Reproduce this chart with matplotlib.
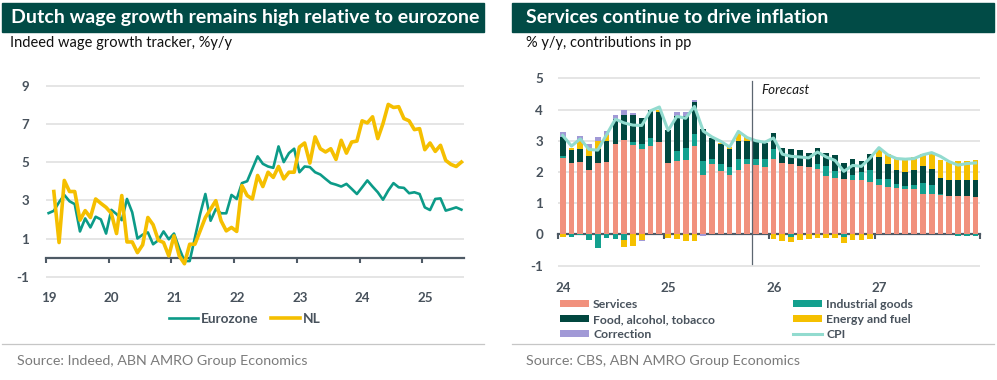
import numpy as np
import pandas as pd
import matplotlib
matplotlib.use('Agg')
import matplotlib.pyplot as plt
import matplotlib.transforms as mtransforms
from matplotlib.patches import Rectangle
from matplotlib.lines import Line2D

plt.rcParams['font.family'] = ['Lato', 'DejaVu Sans']
plt.rcParams['axes.unicode_minus'] = False

# ---- left chart: Indeed wage growth tracker, %y/y (monthly from Jan 2019)
wage_start = '2019-01'
eurozone = [2.33, 2.45, 2.9, 3.28, 2.95, 2.8, 1.37, 2.05, 1.58, 2.14, 2.0, 1.26,
            2.5, 2.28, 1.96, 3.07, 2.37, 1.0, 1.2, 1.32, 0.7, 0.91, 1.37, 0.96,
            1.26, 0.49, -0.18, -0.18, 1.05, 2.28, 3.33, 1.93, 2.54, 2.32, 2.32, 3.28,
            3.07, 3.9, 4.0, 4.65, 5.3, 4.91, 4.77, 4.7, 5.82, 5.0, 5.47, 5.7,
            4.47, 4.77, 4.74, 4.47, 4.35, 4.12, 3.9, 3.82, 3.72, 3.86, 3.6, 3.33,
            3.68, 4.04, 3.72, 3.42, 3.03, 3.51, 3.9, 3.68, 3.65, 3.37, 3.42, 3.33,
            2.63, 2.49, 3.07, 3.1, 2.46, 2.54, 2.63, 2.51]
nl = [np.nan, 3.46, 0.79, 4.04, 3.46, 3.46, 1.96, 2.46, 2.1, 3.07, 2.84, 2.63,
      2.32, 1.26, 3.25, 0.82, 0.82, 0.26, 0.67, 2.1, 1.72, 0.91, 0.79, 0.09,
      1.14, 0.09, -0.32, 0.7, 0.7, 1.4, 2.1, 2.54, 2.98, 1.93, 1.4, 1.58,
      1.37, 3.77, 3.25, 3.07, 4.3, 3.72, 4.47, 4.2, 4.77, 4.12, 4.47, 4.47,
      5.79, 6.0, 4.95, 6.32, 5.7, 5.53, 5.7, 5.14, 6.14, 5.47, 6.05, 6.1,
      7.16, 7.05, 7.37, 6.23, 7.02, 8.02, 7.86, 7.9, 7.28, 7.16, 6.7, 6.75,
      5.65, 6.0, 5.56, 5.88, 5.09, 4.88, 4.77, 5.0]
wage_years = [2019, 2020, 2021, 2022, 2023, 2024, 2025]
wage_yticks = [-1, 1, 3, 5, 7, 9]

# ---- right chart: CPI contributions, pp (monthly from Jan 2024)
infl_start = '2024-01'
services = [2.45, 2.3, 2.33, 2.05, 2.3, 2.33, 2.91, 3.01, 2.85, 2.74, 2.82, 2.95,
            2.29, 2.36, 2.39, 2.82, 1.9, 2.25, 2.02, 1.89, 2.05, 2.27, 2.22, 2.17,
            2.43, 2.29, 2.25, 2.2, 2.16, 2.11, 1.86, 1.82, 1.79, 1.75, 1.73, 1.68,
            1.57, 1.52, 1.49, 1.47, 1.44, 1.3, 1.28, 1.25, 1.23, 1.22, 1.22, 1.2]
industrial = [0.07, -0.08, -0.03, -0.18, -0.43, -0.1, -0.16, -0.19, 0.1, 0.14, 0.28, 0.0,
              0.0, 0.32, 0.38, 0.4, 0.45, 0.15, 0.24, 0.28, 0.37, 0.14, 0.2, 0.23,
              0.29, 0.0, -0.08, 0.0, 0.0, 0.16, 0.32, 0.21, -0.08, 0.14, 0.27, 0.39,
              0.22, 0.27, 0.11, 0.07, 0.13, 0.35, 0.29, 0.05, 0.0, -0.06, -0.06, -0.06]
food = [0.6, 0.39, 0.41, 0.46, 0.42, 0.65, 0.8, 0.81, 0.86, 0.84, 0.88, 0.96,
        1.06, 1.1, 1.01, 1.01, 1.02, 0.68, 0.62, 0.56, 0.57, 0.59, 0.56, 0.52,
        0.53, 0.49, 0.5, 0.5, 0.45, 0.51, 0.43, 0.5, 0.5, 0.51, 0.35, 0.49,
        0.69, 0.46, 0.47, 0.46, 0.5, 0.53, 0.53, 0.52, 0.52, 0.53, 0.53, 0.53]
energy = [-0.08, 0.09, 0.27, 0.26, 0.28, 0.21, 0.0, -0.21, -0.37, -0.17, 0.0, 0.08,
          -0.1, -0.15, -0.22, -0.21, 0.0, 0.0, 0.05, 0.08, 0.25, 0.12, 0.0, 0.0,
          -0.14, -0.2, -0.17, -0.19, -0.14, -0.12, -0.12, -0.12, -0.19, -0.17, -0.17, -0.14,
          0.24, 0.34, 0.34, 0.37, 0.41, 0.41, 0.51, 0.55, 0.57, 0.6, 0.6, 0.64]
correction = [0.17, 0.0, 0.13, 0.11, 0.13, 0.11, 0.13, 0.17, 0.07, -0.04, 0.0, 0.0,
              0.0, 0.15, 0.13, 0.08, -0.06, 0.0, 0.0, 0.0, 0.0, 0.0, 0.0, 0.0,
              0.0, 0.0, 0.0, 0.0, 0.0, 0.0, 0.0, 0.0, 0.0, 0.0, 0.0, 0.0,
              0.0, 0.0, 0.0, 0.0, 0.0, 0.0, 0.0, 0.0, 0.0, 0.0, 0.0, 0.0]
cpi = [3.17, 2.83, 3.06, 2.72, 2.7, 3.2, 3.69, 3.57, 3.5, 3.49, 3.96, 4.08,
       3.33, 3.78, 3.72, 4.1, 3.31, 3.12, 2.98, 2.8, 3.3, 3.1, 3.0, 2.95,
       3.09, 2.57, 2.5, 2.48, 2.45, 2.64, 2.48, 2.37, 2.02, 2.21, 2.18, 2.45,
       2.78, 2.55, 2.43, 2.41, 2.43, 2.55, 2.62, 2.5, 2.33, 2.22, 2.27, 2.29]
forecast_from = '2025-11'
infl_years = [2024, 2025, 2026, 2027, 2028]
infl_yticks = [-1, 0, 1, 2, 3, 4, 5]

# colours
header_col = '#014b46'
teal = '#0c9b88'
yellow = '#f5bf00'
c_serv = '#f1917d'
c_ind = '#13a08e'
c_food = '#01473f'
c_energy = '#f5c000'
c_corr = '#a199d6'
c_cpi = '#92dbcf'
axis_col = '#4e5a65'
grid_col = '#dedede'
label_col = '#48525c'

W, H = 997, 380


def fx(px):
    return px / W


def fy(py):
    return 1 - py / H


def year_frac(dates):
    return dates.year + (dates.month - 1 + 0.5) / 12


fig = plt.figure(figsize=(W / 100, H / 100), dpi=100)

# headers
for x0, x1 in [(2, 484), (512, 994)]:
    fig.patches.append(Rectangle((fx(x0), fy(31.5)), fx(x1) - fx(x0), fy(3) - fy(31.5),
                                 transform=fig.transFigure, color=header_col, zorder=0))
fig.text(fx(11), fy(17.5), 'Dutch wage growth remains high relative to eurozone',
         color='white', weight='bold', size=14, va='center')
fig.text(fx(526), fy(17.5), 'Services continue to drive inflation',
         color='white', weight='bold', size=14, va='center')
fig.text(fx(10), fy(43.5), 'Indeed wage growth tracker, %y/y', size=10.5, va='center', color='#111111')
fig.text(fx(526), fy(43.5), '% y/y, contributions in pp', size=10.5, va='center', color='#111111')

# footers
for x0, x1 in [(2, 484), (512, 994)]:
    fig.add_artist(Line2D([fx(x0), fx(x1)], [fy(343.5), fy(343.5)], transform=fig.transFigure,
                          color='#c6c6c6', lw=0.9))
fig.text(fx(17), fy(361), 'Source: Indeed, ABN AMRO Group Economics', size=10.3, va='center', color='#7b7b7b')
fig.text(fx(526), fy(361), 'Source: CBS, ABN AMRO Group Economics', size=10.3, va='center', color='#7b7b7b')


def style_axis(ax, pad_x, pad_y, dx_px):
    for s in ['top', 'right', 'left']:
        ax.spines[s].set_visible(False)
    ax.spines['bottom'].set_position(('data', 0))
    ax.spines['bottom'].set_color(axis_col)
    ax.spines['bottom'].set_linewidth(1.6)
    ax.spines['bottom'].set_zorder(1.5)
    ax.tick_params(axis='x', direction='out', length=3.5, width=1.5, color=axis_col,
                   pad=pad_x, labelsize=9.6, labelcolor=label_col)
    ax.tick_params(axis='y', length=0, pad=pad_y, labelsize=9.6, labelcolor=label_col)
    for lab in ax.get_xticklabels() + ax.get_yticklabels():
        lab.set_fontweight('bold')
    offset = mtransforms.ScaledTranslation(dx_px / 100, 0, fig.dpi_scale_trans)
    for lab in ax.get_xticklabels():
        lab.set_transform(lab.get_transform() + offset)
    ax.grid(axis='y', color=grid_col, lw=1.1)
    ax.set_axisbelow(True)


# ---- left chart
ax1 = fig.add_axes([fx(46), fy(283.4), fx(464) - fx(46), fy(70.4) - fy(283.4)])
xw = year_frac(pd.date_range(wage_start, periods=len(eurozone), freq='MS'))
ax1.plot(xw, eurozone, color=teal, lw=1.9, label='Eurozone', zorder=3)
ax1.plot(xw, nl, color=yellow, lw=2.6, label='NL', zorder=4)
ax1.set_xlim(2019, 2025 + 8 / 12)
ax1.set_ylim(-1.35, 9.8)
ax1.set_yticks(wage_yticks)
ax1.set_xticks(wage_years)
ax1.set_xticklabels([str(y)[2:] for y in wage_years])
style_axis(ax1, 21, 12, 3)
ax1.legend(loc='center', bbox_to_anchor=(fx(245), fy(319)), bbox_transform=fig.transFigure,
           ncol=2, frameon=False, handlelength=2.1, handletextpad=0.25, columnspacing=0.9,
           prop={'weight': 'bold', 'size': 9.8}, labelcolor=label_col)

# ---- right chart
ax2 = fig.add_axes([fx(558.3), fy(273.5), fx(980) - fx(558.3), fy(68.9) - fy(273.5)])
xi = year_frac(pd.date_range(infl_start, periods=len(services), freq='MS'))
bw = 0.65 / 12
pos_base = np.zeros(len(xi))
neg_base = np.zeros(len(xi))
comps = [(services, c_serv, 'Services'), (industrial, c_ind, 'Industrial goods'),
         (food, c_food, 'Food, alcohol, tobacco'), (energy, c_energy, 'Energy and fuel'),
         (correction, c_corr, 'Correction')]
for vals, col, lab in comps:
    v = np.array(vals)
    bottom = np.where(v >= 0, pos_base, neg_base)
    ax2.bar(xi, v, bw, bottom=bottom, color=col, label=lab, zorder=2)
    pos_base += np.clip(v, 0, None)
    neg_base += np.clip(v, None, 0)
ax2.plot(xi, cpi, color=c_cpi, lw=2.2, zorder=4, label='CPI')
fc = pd.Timestamp(forecast_from)
fc_x = fc.year + (fc.month - 1) / 12
ax2.plot([fc_x, fc_x], [-0.94, 4.92], color='#5c6670', lw=0.9, zorder=5)
ax2.text(fc_x + 0.09, 4.62, 'Forecast', style='italic', size=9.6, color='#1a1a1a', va='center')
ax2.set_xlim(2024, 2028)
ax2.set_ylim(-1.25, 5.3)
ax2.set_yticks(infl_yticks)
ax2.set_xticks(infl_years)
ax2.set_xticklabels([str(y)[2:] if y < 2028 else '' for y in infl_years])
style_axis(ax2, 31, 11, 5)

h, l = ax2.get_legend_handles_labels()
hd = dict(zip(l, h))
leg_kw = dict(frameon=False, handlelength=2.4, handleheight=0.55, handletextpad=0.3,
              labelspacing=0.32, prop={'weight': 'bold', 'size': 8.8}, labelcolor=label_col,
              bbox_transform=fig.transFigure, loc='upper left', borderaxespad=0, borderpad=0)
leg1 = ax2.legend([hd[k] for k in ['Services', 'Food, alcohol, tobacco', 'Correction']],
                  ['Services', 'Food, alcohol, tobacco', 'Correction'],
                  bbox_to_anchor=(fx(560), fy(299)), **leg_kw)
ax2.add_artist(leg1)
ax2.legend([hd[k] for k in ['Industrial goods', 'Energy and fuel', 'CPI']],
           ['Industrial goods', 'Energy and fuel', 'CPI'],
           bbox_to_anchor=(fx(793), fy(299)), **leg_kw)

fig.savefig('out.png', dpi=100)
